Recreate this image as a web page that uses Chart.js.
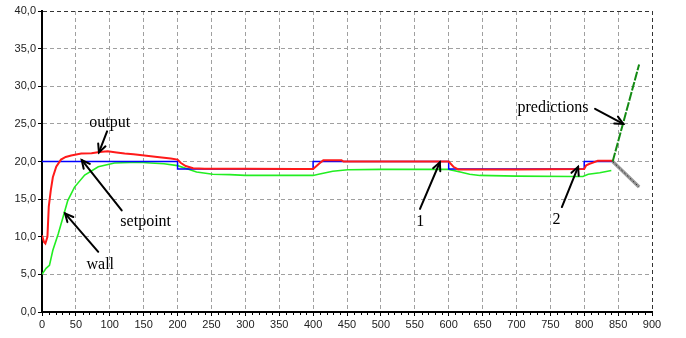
<!DOCTYPE html>
<html>
<head>
<meta charset="utf-8">
<script src="https://cdn.jsdelivr.net/npm/chart.js@4/dist/chart.umd.min.js"></script>
<style>
html,body{margin:0;padding:0;background:#fff;}
#wrap{width:686px;height:338px;position:relative;}
</style>
</head>
<body>
<div id="wrap"><canvas id="c" width="686" height="338"></canvas></div>
<script>
// ---- data ----
const setpointX = [0,200,200,400,400,600,600,800,800,842];
const setpointY = [20,20,19,19,20,20,19,19,20,20];

const outputX = [0,3,5,8,10,13,16,21,28,35,43,58,73,85,97,110,122,135,151,170,190,200,205,212,223,240,300,375,400,405,410,415,442,445,500,600,607,614,700,800,803,808,813,820,842];
const outputY = [10.2,9.3,9.1,10.0,14.0,16.2,17.9,19.3,20.25,20.6,20.8,21.05,21.1,21.25,21.35,21.2,21.05,20.95,20.8,20.6,20.4,20.25,19.8,19.4,19.1,19.05,19.05,19.0,19.0,19.4,19.8,20.15,20.15,20.0,20.0,20.0,19.3,18.95,18.95,19.0,19.5,19.7,19.85,20.1,20.1];

const wallX = [0,6,11,16,24,31,38,48,63,83,107,142,160,180,200,215,228,252,277,300,400,408,429,451,500,600,617,631,646,700,783,798,806,823,840];
const wallY = [5.0,5.8,6.2,8.2,10.4,12.6,14.8,16.6,18.2,19.3,19.8,19.9,19.8,19.7,19.45,19.0,18.6,18.3,18.25,18.15,18.15,18.3,18.7,18.9,18.95,18.95,18.6,18.3,18.15,18.05,18.0,18.0,18.3,18.5,18.8];

const predUpX = [842,881];
const predUpY = [20,32.9];
const predDownX = [842,881];
const predDownY = [20,16.6];

const xTicks = [0,50,100,150,200,250,300,350,400,450,500,550,600,650,700,750,800,850,900];
const yTicks = [0,5,10,15,20,25,30,35,40];

// annotations (label, text x/y, arrow tail x/y, arrow tip x/y) in data units
const annLabels = ['output','setpoint','wall','1','2','predictions'];
const annTextX  = [100,153,86,558,759,754];
const annTextY  = [25.1,12.05,6.3,12.05,12.2,27.1];
const annTailX  = [96,117.6,83,557.7,767,816];
const annTailY  = [24.0,13.5,8.0,13.7,13.95,27.0];
const annTipX   = [84,58.6,34,587,791,857.6];
const annTipY   = [21.2,20.2,13.1,19.9,19.3,25.0];

const pts = (xs, ys) => xs.map((x, i) => ({x: x, y: ys[i]}));

const annotPlugin = {
  id: 'annot',
  afterDatasetsDraw(chart) {
    const ctx = chart.ctx, xs = chart.scales.x, ys = chart.scales.y;
    ctx.save();
    // minor x ticks
    ctx.strokeStyle = '#000'; ctx.lineWidth = 1;
    const by = chart.chartArea.bottom;
    for (let v = 10; v < 900; v += 10) {
      if (v % 50 === 0) continue;
      const px = Math.round(xs.getPixelForValue(v)) + 0.5;
      ctx.beginPath(); ctx.moveTo(px, by); ctx.lineTo(px, by + 3); ctx.stroke();
    }
    // arrows and labels
    ctx.strokeStyle = '#000'; ctx.fillStyle = '#000'; ctx.lineWidth = 2;
    ctx.lineCap = 'round';
    ctx.font = '16px "Liberation Serif", "DejaVu Serif", serif';
    ctx.textAlign = 'center'; ctx.textBaseline = 'middle';
    for (let i = 0; i < annLabels.length; i++) {
      const tx = xs.getPixelForValue(annTailX[i]), ty = ys.getPixelForValue(annTailY[i]);
      const hx = xs.getPixelForValue(annTipX[i]), hy = ys.getPixelForValue(annTipY[i]);
      ctx.beginPath(); ctx.moveTo(tx, ty); ctx.lineTo(hx, hy); ctx.stroke();
      const a = Math.atan2(hy - ty, hx - tx), L = 9, s = 0.45;
      ctx.beginPath();
      ctx.moveTo(hx - L * Math.cos(a - s), hy - L * Math.sin(a - s));
      ctx.lineTo(hx, hy);
      ctx.lineTo(hx - L * Math.cos(a + s), hy - L * Math.sin(a + s));
      ctx.stroke();
      ctx.fillText(annLabels[i], xs.getPixelForValue(annTextX[i]), ys.getPixelForValue(annTextY[i]));
    }
    ctx.restore();
  }
};

const fmt = v => Number(v).toFixed(1).replace('.', ',');

new Chart(document.getElementById('c'), {
  type: 'line',
  data: {
    datasets: [
      {label: 'output', data: pts(outputX, outputY), borderColor: '#ff1a1a', borderWidth: 2, pointRadius: 0, tension: 0, order: 1},
      {label: 'setpoint', data: pts(setpointX, setpointY), borderColor: '#0000ff', borderWidth: 1.5, pointRadius: 0, tension: 0, order: 2},
      {label: 'wall', data: pts(wallX, wallY), borderColor: '#22ee22', borderWidth: 1.6, pointRadius: 0, tension: 0, order: 3},
      {label: 'pred up', data: pts(predUpX, predUpY), borderColor: '#138a13', borderWidth: 2, borderDash: [9, 1.5], pointRadius: 0, order: 0},
      {label: 'pred down', data: pts(predDownX, predDownY), borderColor: '#9a9a9a', borderWidth: 3.5, pointRadius: 0, order: 0},
      {label: 'pred down hatch', data: pts(predDownX, predDownY), borderColor: '#333', borderWidth: 1, borderDash: [2, 2], pointRadius: 0, order: -1}
    ]
  },
  options: {
    responsive: false,
    animation: false,
    events: [],
    layout: {padding: {top: 11, right: 34, bottom: 0, left: 0}},
    plugins: {legend: {display: false}, tooltip: {enabled: false}},
    scales: {
      x: {
        type: 'linear', min: 0, max: 900,
        afterFit: s => { s.height = 26; },
        afterBuildTicks: s => { s.ticks = xTicks.map(v => ({value: v})); },
        ticks: {autoSkip: false, maxRotation: 0, padding: 2, color: '#222',
                font: {family: 'Liberation Sans, Arial, sans-serif', size: 11},
                callback: v => String(v)},
        grid: {color: c => (c.tick && c.tick.value === 900) ? '#333' : '#a0a0a0',
               lineWidth: 1, tickLength: 4, tickColor: '#000', tickWidth: 1},
        border: {display: true, color: '#000', width: 2, dash: [4, 3]}
      },
      y: {
        type: 'linear', min: 0, max: 40,
        afterFit: s => { s.width = 42; },
        afterBuildTicks: s => { s.ticks = yTicks.map(v => ({value: v})); },
        ticks: {autoSkip: false, padding: 2, color: '#222',
                font: {family: 'Liberation Sans, Arial, sans-serif', size: 11},
                callback: v => fmt(v)},
        grid: {color: c => (c.tick && c.tick.value === 40) ? '#333' : '#a0a0a0',
               lineWidth: 1, tickLength: 4, tickColor: '#000', tickWidth: 1},
        border: {display: true, color: '#000', width: 2, dash: [4, 3]}
      }
    }
  },
  plugins: [annotPlugin]
});
</script>
</body>
</html>
